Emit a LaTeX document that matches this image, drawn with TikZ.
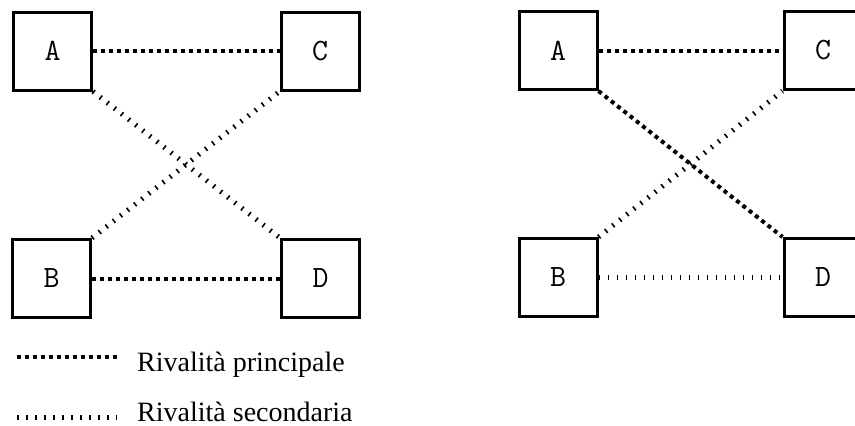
\documentclass[tikz,border=0pt]{standalone}
\usepackage{fontspec}
\setmainfont{Liberation Serif}
\begin{document}
\begin{tikzpicture}[x=1pt,y=-1pt,
  box/.style={draw=black,line width=3pt,minimum size=78pt,inner sep=0pt,
    font=\ttfamily\fontsize{31}{33}\selectfont},
  principal/.style={line width=4pt,dash pattern=on 4pt off 4pt},
  secondary/.style={line width=5pt,dash pattern=on 1.6pt off 7.4pt},
  legtext/.style={anchor=base west,inner sep=0pt,font=\fontsize{28}{30}\selectfont}]
\useasboundingbox[fill=white] (0,0) rectangle (855,426);
% left diagram
\node[box] (A1) at (52.5,51) {A};
\node[box] (C1) at (320,51) {C};
\node[box] (B1) at (51.5,278.5) {B};
\node[box] (D1) at (320.5,278.5) {D};
\draw[principal] (A1.east) -- (C1.west);
\draw[principal] (B1.east) -- (D1.west);
\draw[secondary] (A1.south east) -- (D1.north west);
\draw[secondary] (B1.north east) -- (C1.south west);
% right diagram
\node[box] (A2) at (558,50.5) {A};
\node[box] (C2) at (823,50.5) {C};
\node[box] (B2) at (558,277.5) {B};
\node[box] (D2) at (823,277.5) {D};
\draw[principal] (A2.east) -- (C2.west);
\draw[secondary] (B2.east) -- (D2.west);
\draw[principal] (A2.south east) -- (D2.north west);
\draw[secondary] (B2.north east) -- (C2.south west);
% legend
\coordinate (p1) at (17,357);
\coordinate (p2) at (117,357);
\coordinate (s1) at (17,417);
\coordinate (s2) at (117,417);
\draw[principal] (p1) -- (p2);
\draw[secondary] (s1) -- (s2);
\node[legtext] (lp) at (137,371) {Rivalità principale};
\node[legtext] (ls) at (137,421) {Rivalità secondaria};
\end{tikzpicture}
\end{document}
